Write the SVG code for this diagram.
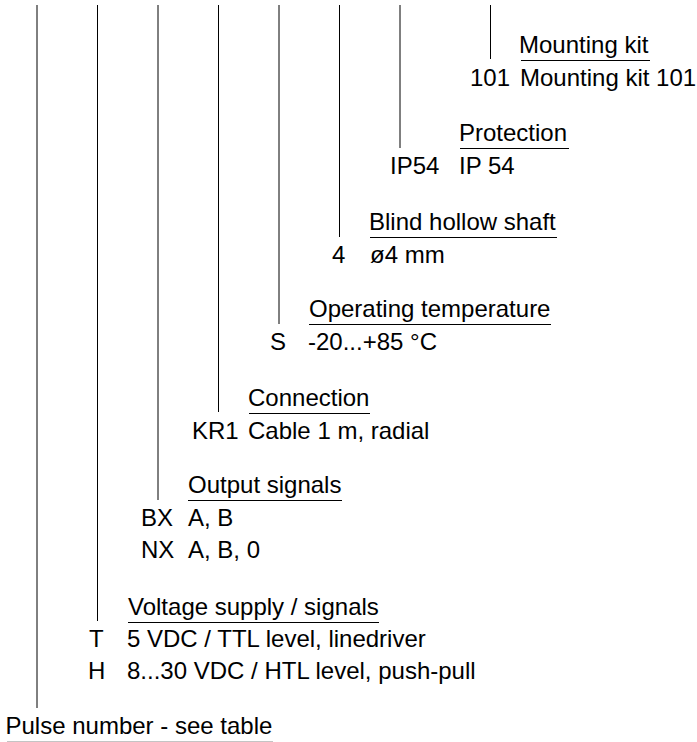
<svg xmlns="http://www.w3.org/2000/svg" width="697" height="742" viewBox="0 0 697 742">
<style>
text{font-family:"Liberation Sans",Arial,sans-serif;font-size:24px;fill:#000}
.ul{stroke:#000;stroke-width:1;fill:none}
.ld{stroke:#000;stroke-width:1;fill:none}
</style>
<rect x="0" y="0" width="697" height="742" fill="#fff"/>
<g id="connectors">
<line class="ld" x1="37" y1="5" x2="37" y2="708"/>
<line class="ld" x1="97.5" y1="5" x2="97.5" y2="621"/>
<line class="ld" x1="158" y1="5" x2="158" y2="500"/>
<line class="ld" x1="218.5" y1="5" x2="218.5" y2="412"/>
<line class="ld" x1="279" y1="5" x2="279" y2="324"/>
<line class="ld" x1="339.5" y1="5" x2="339.5" y2="237"/>
<line class="ld" x1="400" y1="5" x2="400" y2="148"/>
<line class="ld" x1="490.5" y1="5" x2="490.5" y2="59"/>
</g>
<g id="mounting-kit">
<text x="519" y="53">Mounting kit</text>
<line class="ul" x1="521" y1="60.5" x2="650" y2="60.5"/>
<text x="470" y="86">101</text>
<text x="520" y="86">Mounting kit 101</text>
</g>
<g id="protection">
<text x="459" y="141">Protection</text>
<line class="ul" x1="460" y1="148.5" x2="569" y2="148.5"/>
<text x="390" y="174">IP54</text>
<text x="459" y="174">IP 54</text>
</g>
<g id="blind-hollow-shaft">
<text x="369" y="230">Blind hollow shaft</text>
<line class="ul" x1="370" y1="237.5" x2="557" y2="237.5"/>
<text x="332" y="263">4</text>
<text x="370" y="263">ø4 mm</text>
</g>
<g id="operating-temperature">
<text x="309" y="317">Operating temperature</text>
<line class="ul" x1="309" y1="324.5" x2="551" y2="324.5"/>
<text x="270" y="350">S</text>
<text x="308" y="350">-20...+85 °C</text>
</g>
<g id="connection">
<text x="248" y="406">Connection</text>
<line class="ul" x1="249" y1="413.5" x2="370" y2="413.5"/>
<text x="192" y="439">KR1</text>
<text x="248" y="439">Cable 1 m, radial</text>
</g>
<g id="output-signals">
<text x="188" y="493">Output signals</text>
<line class="ul" x1="188" y1="500.5" x2="342" y2="500.5"/>
<text x="141" y="526">BX</text>
<text x="188" y="526">A, B</text>
<text x="141" y="558">NX</text>
<text x="188" y="558">A, B, 0</text>
</g>
<g id="voltage-supply">
<text x="128" y="615">Voltage supply / signals</text>
<line class="ul" x1="128" y1="622.5" x2="379" y2="622.5"/>
<text x="89" y="647">T</text>
<text x="127" y="647">5 VDC / TTL level, linedriver</text>
<text x="88" y="679">H</text>
<text x="127" y="679">8...30 VDC / HTL level, push-pull</text>
</g>
<g id="pulse-number">
<text x="5.5" y="734">Pulse number - see table</text>
<line x1="7" y1="742" x2="273" y2="742" stroke="#888" stroke-width="1"/>
</g>
</svg>
